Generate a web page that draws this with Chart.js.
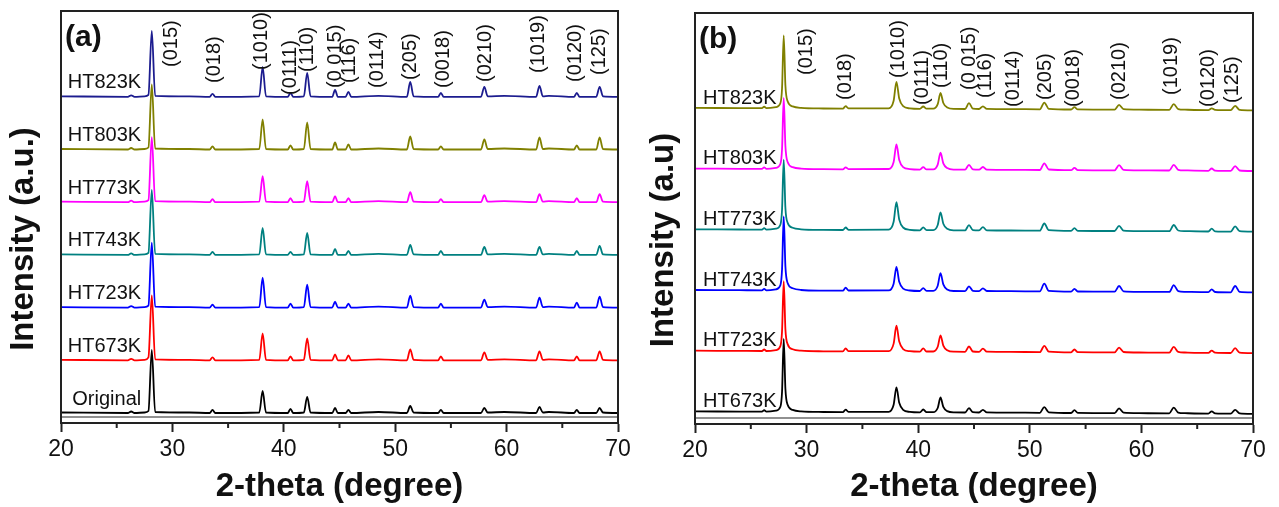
<!DOCTYPE html>
<html>
<head>
<meta charset="utf-8">
<script src="https://cdn.jsdelivr.net/npm/chart.js@4.4.1/dist/chart.umd.min.js"></script>
<style>
  html, body { margin: 0; padding: 0; background: #fff; }
  #wrap { position: relative; width: 1279px; height: 507px; }
  canvas { position: absolute; top: 0; }
  #chartA { left: 0; }
  #chartB { left: 640px; }
</style>
</head>
<body>
<div id="wrap">
  <canvas id="chartA" width="640" height="507"></canvas>
  <canvas id="chartB" width="639" height="507"></canvas>
</div>
<script>
// ---- panel (a): 2-theta sampling positions and intensities (a.u., above each trace's baseline)
const thetaA = [20, 26.0, 26.3, 26.6, 27.5, 27.85, 28.15, 28.45, 31.5, 33.35, 33.6, 33.85, 37.8, 38.1, 38.4,
  40.35, 40.6, 40.85, 41.8, 42.1, 42.4, 44.35, 44.6, 44.85, 45.55, 45.8, 46.05, 48.5, 51.05, 51.35, 51.65,
  53.85, 54.1, 54.35, 57.7, 58.0, 58.3, 59.8, 62.65, 62.95, 63.25, 63.8, 66.05, 66.3, 66.55, 68.05, 68.35, 68.65, 70];

const aOriginal = [0.5, 0, 1.5, 0, 0.5, 2, 63, 1, 0.5, 0, 3, 0, 0.5, 22, 0.5, 0, 4, 0, 0.5, 16, 0.5, 0, 5, 0, 0, 3, 0, 1, 0, 7, 0.5, 0, 3, 0, 0, 5, 0.5, 1, 0, 6, 0.5, 1, 0, 3, 0, 0, 5, 0.5, 0];
const aHT673K = [0.5, 0, 1.5, 0, 0.5, 3, 65, 1, 0.5, 0, 3, 0, 0.5, 27, 0.5, 0, 4, 0, 0.5, 22, 0.5, 0, 6, 0, 0, 5, 0, 1, 0, 11, 0.5, 0, 4, 0, 0, 8, 0.5, 1, 0, 9, 0.5, 1, 0, 4, 0, 0, 9, 0.5, 0];
const aHT723K = [0.5, 0, 1.5, 0, 0.5, 2, 65, 1, 0.5, 0, 3, 0, 0.5, 30, 0.5, 0, 4, 0, 0.5, 23, 0.5, 0, 6, 0, 0, 4, 0, 1, 0, 12, 0.5, 0, 4, 0, 0, 8, 0.5, 1, 0, 10, 0.5, 1, 0, 5, 0, 0, 11, 0.5, 0];
const aHT743K = [0.5, 0, 1.5, 0, 0.5, 2, 65, 1, 0.5, 0, 3, 0, 0.5, 27, 0.5, 0, 3, 0, 0.5, 22, 0.5, 0, 6, 0, 0, 4, 0, 1, 0, 10, 0.5, 0, 4, 0, 0, 8, 0.5, 1, 0, 8, 0.5, 1, 0, 4, 0, 0, 9, 0.5, 0];
const aHT773K = [0.5, 0, 1.5, 0, 0.5, 2, 65, 1, 0.5, 0, 3, 0, 0.5, 26, 0.5, 0, 4, 0, 0.5, 21, 0.5, 0, 6, 0, 0, 4, 0, 1, 0, 10, 0.5, 0, 3, 0, 0, 7, 0.5, 1, 0, 8, 0.5, 1, 0, 4, 0, 0, 8, 0.5, 0];
const aHT803K = [0.5, 0, 1.5, 0, 0.5, 2, 65, 1, 0.5, 0, 3, 0, 0.5, 30, 0.5, 0, 4, 0, 0.5, 27, 0.5, 0, 7, 0, 0, 5, 0, 1, 0, 13, 0.5, 0, 3, 0, 0, 10, 0.5, 1, 0, 12, 0.5, 1, 0, 4, 0, 0, 12, 0.5, 0];
const aHT823K = [0.5, 0, 1.5, 0, 0.5, 2, 66, 1, 0.5, 0, 3, 0, 0.5, 30, 0.5, 0, 4, 0, 0.5, 24, 0.5, 0, 7, 0, 0, 5, 0, 1, 0, 15, 0.5, 0, 4, 0, 0, 10, 0.5, 1, 0, 11, 0.5, 1, 0, 4, 0, 0, 10, 0.5, 0];

const namesA = ['Original', 'HT673K', 'HT723K', 'HT743K', 'HT773K', 'HT803K', 'HT823K'];
const colorsA = ['#000000', '#ff0000', '#0000ff', '#008080', '#ff00ff', '#808000', '#1c1c8f'];

// ---- panel (b)
const thetaB = [20, 24, 26.0, 26.2, 26.4, 27.25, 27.65, 27.8, 27.95, 28.1, 28.3, 28.75, 29.5, 31.5, 33.25,
  33.5, 33.75, 37.35, 37.8, 38.05, 38.3, 38.65, 39.25, 40.15, 40.45, 40.75, 41.35, 41.75, 42.0, 42.25,
  42.6, 43.2, 44.2, 44.55, 44.9, 45.45, 45.8, 46.15, 48.3, 50.9, 51.3, 51.7, 53.7, 54.0, 54.3,
  57.6, 58.0, 58.4, 59.8, 62.5, 62.9, 63.3, 63.9, 66.0, 66.3, 66.6, 68.0, 68.4, 68.8, 70];

const backgroundB = [2.6, 2.4, 2.3, 2.3, 2.3, 2.2, 2.2, 2.2, 2.2, 2.2, 2.2, 2.1, 2.1, 2.0, 1.9,
  1.9, 1.9, 1.7, 1.7, 1.7, 1.7, 1.6, 1.6, 1.6, 1.5, 1.5, 1.5, 1.5, 1.5, 1.4,
  1.4, 1.4, 1.3, 1.3, 1.3, 1.3, 1.2, 1.2, 1.1, 0.9, 0.9, 0.9, 0.8, 0.8, 0.7,
  0.6, 0.6, 0.6, 0.5, 0.4, 0.4, 0.4, 0.3, 0.2, 0.2, 0.2, 0.1, 0.1, 0.1, 0];

const bHT673K = [0, 0, 0, 1.5, 0, 1.1, 5, 20, 73, 23, 7, 2, 0.5, 0, 0, 2.5, 0.2, 0.5, 7.5, 25, 9.5, 2.5, 0.5, 0, 3, 0.3, 0.3, 4.5, 15, 5.7, 1.5, 0.2, 0.2, 4.5, 0.5, 0.2, 3, 0.4, 0.3, 0.3, 6, 0.8, 0.2, 3, 0.4, 0.3, 5, 0.7, 0.3, 0.3, 6, 1, 0.5, 0.2, 2.5, 0.4, 0.2, 4, 0.6, 0.2];
const bHT723K = [0, 0, 0, 1.5, 0, 1, 5, 20, 70, 22, 7, 2, 0.5, 0, 0, 3, 0.2, 0.5, 8, 26, 10, 2.6, 0.5, 0, 3.5, 0.3, 0.3, 5, 16.5, 6.3, 1.7, 0.2, 0.2, 5.5, 0.5, 0.2, 3.5, 0.4, 0.3, 0.3, 6.5, 0.8, 0.2, 3, 0.4, 0.3, 5, 0.7, 0.3, 0.3, 6, 1, 0.5, 0.2, 2.5, 0.4, 0.2, 5, 0.6, 0.2];
const bHT743K = [0, 0, 0, 1.5, 0, 1.1, 5.2, 21, 74, 24, 7.4, 2.2, 0.5, 0, 0, 3, 0.2, 0.5, 7.2, 24, 9.1, 2.4, 0.5, 0, 3, 0.3, 0.3, 5.4, 18, 6.8, 1.8, 0.2, 0.2, 5, 0.5, 0.2, 3, 0.4, 0.3, 0.3, 8, 0.8, 0.2, 3, 0.4, 0.3, 6, 0.7, 0.3, 0.3, 7, 1, 0.5, 0.2, 3, 0.4, 0.2, 6.5, 0.6, 0.2];
const bHT773K = [0, 0, 0, 1.5, 0, 1, 5, 20, 70, 22, 7, 2, 0.5, 0, 0, 2.5, 0.2, 0.5, 8.4, 28, 10.6, 2.8, 0.5, 0, 3, 0.3, 0.3, 5.4, 18, 6.8, 1.8, 0.2, 0.2, 5.5, 0.5, 0.2, 3.5, 0.4, 0.3, 0.3, 7.5, 0.8, 0.2, 3, 0.4, 0.3, 5.5, 0.7, 0.3, 0.3, 6.5, 1, 0.5, 0.2, 3, 0.4, 0.2, 5.5, 0.6, 0.2];
const bHT803K = [0, 0, 0, 1.5, 0, 1.1, 5, 20, 71, 23, 7, 2, 0.5, 0, 0, 2, 0.2, 0.5, 7.5, 25, 9.5, 2.5, 0.5, 0, 2.5, 0.3, 0.3, 5.1, 17, 6.5, 1.7, 0.2, 0.2, 5, 0.5, 0.2, 3, 0.4, 0.3, 0.3, 7, 0.8, 0.2, 2.5, 0.4, 0.3, 5.5, 0.7, 0.3, 0.3, 6, 1, 0.5, 0.2, 2.5, 0.4, 0.2, 5, 0.6, 0.2];
const bHT823K = [0, 0, 0, 1.5, 0, 1.1, 5, 20, 73, 23, 7, 2, 0.5, 0, 0, 2.5, 0.2, 0.5, 8.1, 27, 10.3, 2.7, 0.5, 0, 2.5, 0.3, 0.3, 4.8, 16, 6.1, 1.6, 0.2, 0.2, 6, 0.5, 0.2, 3, 0.4, 0.3, 0.3, 7, 0.8, 0.2, 2.5, 0.4, 0.3, 5, 0.7, 0.3, 0.3, 6, 1, 0.5, 0.2, 2, 0.4, 0.2, 4.5, 0.6, 0.2];

const namesB = ['HT673K', 'HT723K', 'HT743K', 'HT773K', 'HT803K', 'HT823K'];
const colorsB = ['#000000', '#ff0000', '#0000ff', '#008080', '#ff00ff', '#808000'];

// reflection labels
const hkl = ['(015)', '(018)', '(1010)', '(0111)', '(110)', '(0 015)', '(116)', '(0114)', '(205)', '(0018)', '(0210)', '(1019)', '(0120)', '(125)'];
const hklThetaA = [29.95, 33.8, 38.0, 40.6, 42.1, 44.6, 45.9, 48.4, 51.35, 54.3, 58.1, 62.9, 66.2, 68.35];
const hklLevelA = [356, 340, 353, 328, 351, 335, 340, 335, 343, 335, 341, 350, 341, 348];
const hklThetaB = [30.0, 33.5, 38.25, 40.4, 42.1, 44.6, 46.0, 48.5, 51.4, 53.9, 58.0, 62.7, 66.0, 68.2];
const hklLevelB = [349, 324, 346, 319, 336, 334, 326, 317, 324, 317, 324, 329, 317, 321];

Chart.defaults.font.family = '"Liberation Sans", Arial, sans-serif';
Chart.defaults.color = '#111';

function stacked(names, series, theta, colors, base, step, bg) {
  return series.map((vals, i) => ({
    label: names[i],
    data: vals.map((v, j) => ({ x: theta[j], y: base + i * step + v + (bg ? bg[j] : 0) })),
    borderColor: colors[i],
    borderWidth: 1.8,
    pointRadius: 0,
    cubicInterpolationMode: 'monotone',
    fill: false
  }));
}

// frame, minor ticks, panel letter, sample names, hkl labels, y title
const xrdDecor = {
  id: 'xrdDecor',
  afterDatasetsDraw(chart, args, o) {
    const { ctx, chartArea: a, scales: { x, y } } = chart;
    ctx.save();
    ctx.strokeStyle = '#222';
    ctx.lineWidth = 2;
    ctx.strokeRect(a.left, a.top, a.right - a.left, a.bottom - a.top);
    ctx.lineWidth = 1.2;
    ctx.beginPath();
    ctx.moveTo(a.left, a.bottom - 6);
    ctx.lineTo(a.right, a.bottom - 6);
    ctx.stroke();
    ctx.lineWidth = 2;
    for (let v = 25; v < 70; v += 10) {
      const px = x.getPixelForValue(v);
      ctx.beginPath();
      ctx.moveTo(px, a.bottom);
      ctx.lineTo(px, a.bottom + 5);
      ctx.stroke();
    }

    ctx.fillStyle = '#111';
    ctx.textBaseline = 'middle';
    ctx.textAlign = 'left';
    ctx.font = 'bold 30px "Liberation Sans", Arial, sans-serif';
    ctx.fillText(o.letter, a.left + 4, a.top + 27);

    ctx.font = '20px "Liberation Sans", Arial, sans-serif';
    ctx.textAlign = 'right';
    o.names.forEach((n, i) => {
      ctx.fillText(n, x.getPixelForValue(o.nameTheta), y.getPixelForValue(o.base + i * o.step + o.nameLift));
    });

    ctx.textAlign = 'left';
    o.hkl.forEach((t, i) => {
      ctx.save();
      ctx.translate(x.getPixelForValue(o.hklTheta[i]), y.getPixelForValue(o.hklLevel[i]));
      ctx.rotate(-Math.PI / 2);
      ctx.fillText(t, 0, 0);
      ctx.restore();
    });

    ctx.font = 'bold 33px "Liberation Sans", Arial, sans-serif';
    ctx.textAlign = 'center';
    ctx.translate(o.yTitleX, o.yTitleY);
    ctx.rotate(-Math.PI / 2);
    ctx.fillText(o.yTitle, 0, 0);
    ctx.restore();
  }
};

function makeConfig(datasets, yMax, axisW, axisH, pad, decor) {
  return {
    type: 'line',
    data: { datasets: datasets },
    plugins: [xrdDecor],
    options: {
      responsive: false,
      animation: false,
      devicePixelRatio: 1,
      layout: { padding: pad },
      plugins: { legend: { display: false }, tooltip: { enabled: false }, xrdDecor: decor },
      scales: {
        x: {
          type: 'linear',
          min: 20,
          max: 70,
          afterFit: (s) => { s.height = axisH; },
          ticks: { stepSize: 10, autoSkip: false, maxRotation: 0, padding: 4, color: '#111', font: { size: 23 } },
          grid: { drawOnChartArea: false, drawTicks: true, tickLength: 9, tickWidth: 2, tickColor: '#222' },
          border: { display: true, width: 2, color: '#222' },
          title: { display: true, text: '2-theta (degree)', color: '#111', font: { size: 33, weight: 'bold' }, padding: { top: 0, bottom: 0 } }
        },
        y: {
          type: 'linear',
          min: 0,
          max: yMax,
          afterFit: (s) => { s.width = axisW; },
          ticks: { display: false },
          grid: { display: false },
          border: { display: true, width: 2, color: '#222' }
        }
      }
    }
  };
}

new Chart(document.getElementById('chartA'), makeConfig(
  stacked(namesA, [aOriginal, aHT673K, aHT723K, aHT743K, aHT773K, aHT803K, aHT823K], thetaA, colorsA, 10, 52.7),
  412, 61, 84, { left: 0, top: 11, right: 22, bottom: 0 },
  { letter: '(a)', names: namesA, base: 10, step: 52.7, nameLift: 14, nameTheta: 27.2,
    hkl: hkl, hklTheta: hklThetaA, hklLevel: hklLevelA, yTitle: 'Intensity (a.u.)', yTitleX: 23.5, yTitleY: 239 }
));

new Chart(document.getElementById('chartB'), makeConfig(
  stacked(namesB, [bHT673K, bHT723K, bHT743K, bHT773K, bHT803K, bHT823K], thetaB, colorsB, 10, 60.7, backgroundB),
  411, 55, 83, { left: 0, top: 13, right: 26, bottom: 0 },
  { letter: '(b)', names: namesB, base: 10, step: 60.7, nameLift: 12.5, nameTheta: 27.3,
    hkl: hkl, hklTheta: hklThetaB, hklLevel: hklLevelB, yTitle: 'Intensity (a.u)', yTitleX: 24, yTitleY: 240 }
));
</script>
</body>
</html>
